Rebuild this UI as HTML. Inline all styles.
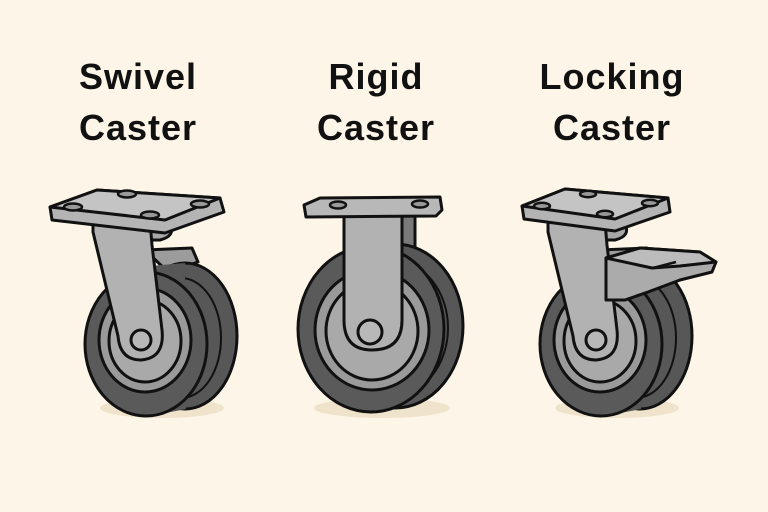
<!DOCTYPE html>
<html><head><meta charset="utf-8"><style>
html,body{margin:0;padding:0;background:#fdf6e8;}
svg{display:block}
text{font-family:"Liberation Sans",sans-serif;font-weight:bold;font-size:36px;fill:#111;text-anchor:middle;letter-spacing:1px}
</style></head><body>
<svg width="768" height="512" viewBox="0 0 768 512" xmlns="http://www.w3.org/2000/svg">
<rect width="768" height="512" fill="#fdf6e8"/>
<text x="138" y="89">Swivel</text><text x="138" y="140">Caster</text>
<text x="376" y="89">Rigid</text><text x="376" y="140">Caster</text>
<text x="612" y="89">Locking</text><text x="612" y="140">Caster</text>

<defs>
<g id="sw" stroke="#111" stroke-width="3" stroke-linejoin="round">
  <ellipse cx="162" cy="408" rx="62" ry="10" fill="#efe3cb" stroke="none"/>
  <path d="M145 250 L192 248 L198 262 L168 272 Z" fill="#9c9c9c"/>
  <ellipse cx="185" cy="336" rx="52" ry="73" fill="#575757"/>
  <ellipse cx="181" cy="338" rx="40" ry="60" fill="none" stroke-width="2"/>
  <path d="M150 266 L185 263 L186 409 L150 416 Z" fill="#575757" stroke="none"/>
  <ellipse cx="146" cy="344" rx="61" ry="72" fill="#5a5a5a"/>
  <ellipse cx="145" cy="340" rx="46" ry="52" fill="#9a9a9a"/>
  <ellipse cx="145" cy="341" rx="36" ry="41" fill="#a9a9a9"/>
  <path d="M100 222 L170 224 Q176 236 160 240 L150 240 Z" fill="#a8a8a8"/>
  <path d="M93 222 L150 222 L152 245 L162 330 Q165 358 141 360 Q120 360 118 336 L93 232 Z" fill="#b2b2b2"/>
  <circle cx="141" cy="340" r="10" fill="#b8b8b8"/>
</g>
</defs>

<use href="#sw"/>
<g stroke="#111" stroke-width="3" stroke-linejoin="round">
  <path d="M50 207 L97 190 L220 198 L224 212 L165 233 L52 220 Z" fill="#b4b4b4"/>
  <path d="M50 207 L97 190 L220 198 L165 220 Z" fill="#c4c4c4"/>
  <ellipse cx="73" cy="207" rx="9" ry="3.5" fill="#999" stroke-width="2.5"/>
  <ellipse cx="127" cy="194" rx="9" ry="3.5" fill="#999" stroke-width="2.5"/>
  <ellipse cx="200" cy="204" rx="9" ry="3.5" fill="#999" stroke-width="2.5"/>
  <ellipse cx="150" cy="215" rx="9" ry="3.5" fill="#999" stroke-width="2.5"/>
</g>

<!-- Rigid -->
<g stroke="#111" stroke-width="3" stroke-linejoin="round">
  <ellipse cx="382" cy="408" rx="68" ry="10" fill="#efe3cb" stroke="none"/>
  <rect x="395" y="215" width="20" height="70" fill="#7a7a7a"/>
  <ellipse cx="395" cy="326" rx="68" ry="82" fill="#575757"/>
  <ellipse cx="392" cy="328" rx="56" ry="68" fill="none" stroke-width="2"/>
  <ellipse cx="371" cy="329" rx="73" ry="83" fill="#5a5a5a"/>
  <ellipse cx="372" cy="330" rx="57" ry="60" fill="#9a9a9a"/>
  <ellipse cx="372" cy="331" rx="46" ry="49" fill="#a9a9a9"/>
  <path d="M344 215 L402 215 L402 320 Q402 350 372 350 Q344 350 344 320 Z" fill="#b2b2b2"/>
  <circle cx="370" cy="332" r="12" fill="#b8b8b8"/>
  <path d="M304 205 L320 198 L440 197 L442 210 L436 216 L306 217 Z" fill="#b8b8b8"/>
  <ellipse cx="338" cy="205" rx="8" ry="3.5" fill="#999" stroke-width="2.5"/>
  <ellipse cx="420" cy="204" rx="8" ry="3.5" fill="#999" stroke-width="2.5"/>
</g>

<!-- Locking -->
<g transform="translate(455,0)"><use href="#sw"/></g>
<g stroke="#111" stroke-width="3" stroke-linejoin="round">
  <path d="M606 258 L640 248 L700 252 L716 262 L712 272 L680 280 L648 292 L625 300 L606 300 Z" fill="#ababab"/>
  <path d="M606 258 L640 248 L700 252 L716 262 L680 266 L652 268 Z" fill="#bcbcbc"/>
  <line x1="653" y1="268" x2="676" y2="262" stroke-width="2.5"/>
  <path d="M522 206 L565 189 L668 198 L670 212 L615 231 L524 219 Z" fill="#b4b4b4"/>
  <path d="M522 206 L565 189 L668 198 L615 219 Z" fill="#c4c4c4"/>
  <ellipse cx="542" cy="206" rx="8" ry="3.2" fill="#999" stroke-width="2.5"/>
  <ellipse cx="588" cy="194" rx="8" ry="3.2" fill="#999" stroke-width="2.5"/>
  <ellipse cx="650" cy="203" rx="8" ry="3.2" fill="#999" stroke-width="2.5"/>
  <ellipse cx="605" cy="214" rx="8" ry="3.2" fill="#999" stroke-width="2.5"/>
</g>
</svg>
</body></html>
